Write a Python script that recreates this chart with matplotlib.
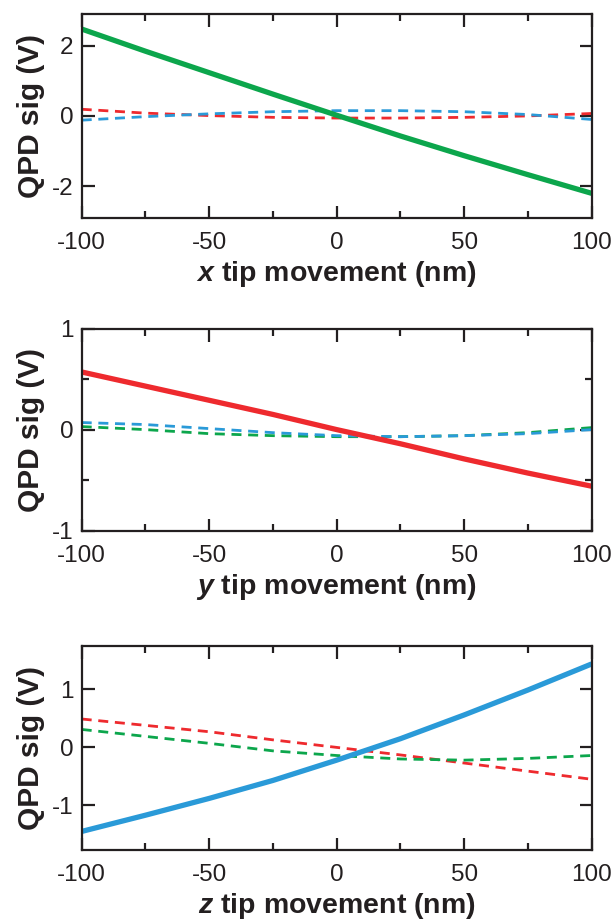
import matplotlib
matplotlib.use("Agg")
import matplotlib.pyplot as plt
import numpy as np

plt.rcParams['font.family'] = ['Liberation Sans', 'DejaVu Sans']
plt.rcParams['mathtext.fontset'] = 'custom'
plt.rcParams['mathtext.bfit'] = 'Liberation Sans:italic:bold'
plt.rcParams['mathtext.it'] = 'Liberation Sans:italic'
plt.rcParams['mathtext.rm'] = 'Liberation Sans'

# tip displacement (nm)
tip_nm = [-100, -75, -50, -25, 0, 25, 50, 75, 100]

# x scan: QPD channel responses (V)
x_scan_green = [2.47, 1.84, 1.23, 0.62, 0.02, -0.57, -1.13, -1.67, -2.20]
x_scan_red = [0.19, 0.08, 0.01, -0.04, -0.06, -0.06, -0.04, 0.00, 0.07]
x_scan_blue = [-0.12, -0.02, 0.06, 0.12, 0.15, 0.15, 0.12, 0.04, -0.10]

# y scan
y_scan_red = [0.57, 0.43, 0.29, 0.15, 0.00, -0.14, -0.29, -0.43, -0.56]
y_scan_blue = [0.07, 0.05, 0.01, -0.03, -0.06, -0.07, -0.06, -0.04, 0.00]
y_scan_green = [0.03, 0.00, -0.04, -0.06, -0.07, -0.07, -0.06, -0.03, 0.02]

# z scan
z_scan_blue = [-1.45, -1.17, -0.88, -0.57, -0.22, 0.15, 0.56, 0.99, 1.44]
z_scan_red = [0.49, 0.38, 0.27, 0.13, 0.00, -0.13, -0.27, -0.41, -0.55]
z_scan_green = [0.31, 0.19, 0.07, -0.06, -0.14, -0.20, -0.22, -0.19, -0.14]

GREEN = '#0ca64c'
RED = '#ee2a2e'
BLUE = '#2a9ad8'
INK = '#231f20'

x_major = [-100, -50, 0, 50, 100]
x_minor = [-75, -25, 25, 75]

panels = [
    dict(axis='x', solid=(x_scan_green, GREEN),
         dashed=[(x_scan_red, RED), (x_scan_blue, BLUE)],
         ylim=(-2.9, 2.9), yticks=[-2, 0, 2], yminor=[]),
    dict(axis='y', solid=(y_scan_red, RED),
         dashed=[(y_scan_green, GREEN), (y_scan_blue, BLUE)],
         ylim=(-1, 1), yticks=[-1, 0, 1], yminor=[-0.5, 0.5]),
    dict(axis='z', solid=(z_scan_blue, BLUE),
         dashed=[(z_scan_red, RED), (z_scan_green, GREEN)],
         ylim=(-1.77, 1.75), yticks=[-1, 0, 1], yminor=[]),
]

fig = plt.figure(figsize=(6.11, 9.22), dpi=100)
left, width = 0.1337, 0.8347
boxes = [(0.7636, 0.2213), (0.4244, 0.2193), (0.0781, 0.2213)]

for p, (bottom, height) in zip(panels, boxes):
    ax = fig.add_axes([left, bottom, width, height])
    for vals, col in p['dashed']:
        ax.plot(tip_nm, vals, color=col, lw=2.0, dashes=(3.6, 2.4))
    vals, col = p['solid']
    ax.plot(tip_nm, vals, color=col, lw=3.8, solid_capstyle='butt')

    ax.set_xlim(-100, 100)
    ax.set_ylim(*p['ylim'])
    ax.set_xticks(x_major)
    ax.set_xticks(x_minor, minor=True)
    ax.set_yticks(p['yticks'])
    ax.set_yticks(p['yminor'], minor=True)
    ax.set_xticklabels([str(v) for v in x_major])
    ax.set_yticklabels([str(v) for v in p['yticks']])
    ax.tick_params(which='both', direction='in', top=True, right=True,
                   width=1.6, color=INK, labelsize=17.5, labelcolor=INK)
    ax.tick_params(axis='x', which='major', length=9, pad=10)
    ax.tick_params(axis='x', which='minor', length=5)
    ax.tick_params(axis='y', which='major', length=9, pad=6)
    ax.tick_params(axis='y', which='minor', length=5)
    for s in ax.spines.values():
        s.set_linewidth(1.6)
        s.set_color(INK)

    ax.set_xlabel(r'$\mathbfit{' + p['axis'] + r'}$ tip movement (nm)',
                  fontsize=20.5, fontweight='bold', color=INK, labelpad=4)
    ax.set_ylabel('QPD sig (V)', fontsize=21.5, fontweight='bold',
                  color=INK, labelpad=5)

fig.savefig('out.png', dpi=100)
